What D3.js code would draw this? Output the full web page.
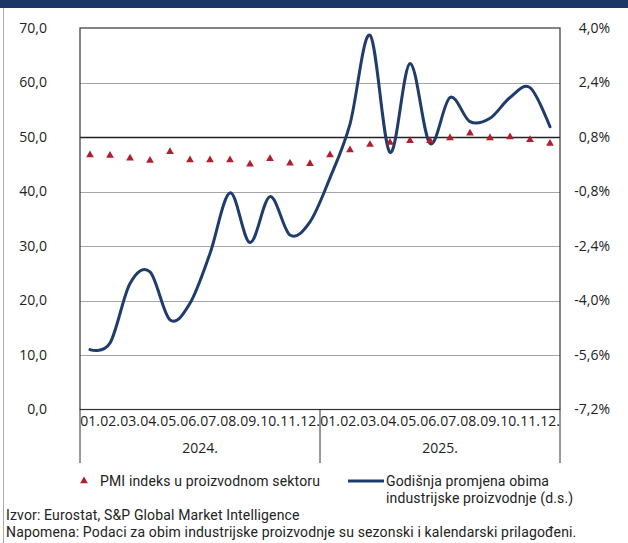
<!DOCTYPE html>
<html>
<head>
<meta charset="utf-8">
<script src="https://cdn.jsdelivr.net/npm/d3@7"></script>
<style>
  html, body { margin: 0; padding: 0; background: #fff; }
  svg { display: block; font-family: "Open Sans", "Noto Sans", sans-serif; }
</style>
</head>
<body>
<svg id="chart" width="628" height="543"></svg>
<script>
// ---- data ----
const months = ["01.","02.","03.","04.","05.","06.","07.","08.","09.","10.","11.","12.",
                "01.","02.","03.","04.","05.","06.","07.","08.","09.","10.","11.","12."];
const years = ["2024.", "2025."];
const pmi = [46.7, 46.6, 46.1, 45.7, 47.3, 45.8, 45.8, 45.8, 45.0, 46.0, 45.2, 45.1,
             46.7, 47.6, 48.6, 49.0, 49.3, 49.3, 49.8, 50.7, 49.8, 50.0, 49.5, 48.8];
const ipChange = [-5.44, -5.25, -3.50, -3.16, -4.57, -4.08, -2.62, -0.84, -2.30, -0.95, -2.08, -1.69,
                  -0.40, 1.18, 3.79, 0.35, 2.96, 0.61, 1.96, 1.25, 1.35, 1.96, 2.25, 1.10];
const leftTicks = [0, 10, 20, 30, 40, 50, 60, 70];
const rightTicks = [-7.2, -5.6, -4.0, -2.4, -0.8, 0.8, 2.4, 4.0];
const legendLabels = ["PMI indeks u proizvodnom sektoru", ["Godišnja promjena obima", "industrijske proizvodnje (d.s.)"]];
const notes = ["Izvor: Eurostat, S&P Global Market Intelligence",
               "Napomena: Podaci za obim industrijske proizvodnje su sezonski i kalendarski prilagođeni."];

// ---- layout ----
const svg = d3.select("#chart");
const L = 80, R = 560, T = 28, B = 409.5;
const navy = "#1c3766", lineCol = "#1f3c6c", red = "#b01f2e";
const fmt = d => d.toFixed(1).replace(".", ",");

// top band and left frame
svg.append("rect").attr("x", 0).attr("y", 0).attr("width", 628).attr("height", 8).attr("fill", navy);
svg.append("line").attr("x1", 3.5).attr("x2", 3.5).attr("y1", 8).attr("y2", 543)
   .attr("stroke", "#a9a9a9").attr("stroke-width", 1);

const x = d3.scaleBand().domain(d3.range(months.length)).range([L, R]);
const yL = d3.scaleLinear().domain([0, 70]).range([B, T]);
const yR = d3.scaleLinear().domain([-7.2, 4.0]).range([B, T]);

// gridlines
svg.append("g").selectAll("line").data(leftTicks.filter(v => v > 0 && v < 70)).join("line")
  .attr("x1", L).attr("x2", R)
  .attr("y1", d => Math.round(yL(d)) + 0.5).attr("y2", d => Math.round(yL(d)) + 0.5)
  .attr("stroke", d => d === 50 ? "#222" : "#a6a6a6").attr("stroke-width", d => d === 50 ? 1.3 : 1);

// plot frame
svg.append("rect").attr("x", L).attr("y", T).attr("width", R - L).attr("height", B - T)
  .attr("fill", "none").attr("stroke", "#333").attr("stroke-width", 1.2);

// left axis
const gL = svg.append("g").attr("transform", `translate(${L},0)`)
  .call(d3.axisLeft(yL).tickValues(leftTicks).tickFormat(fmt).tickSize(0).tickPadding(33));
gL.select(".domain").remove();
gL.selectAll("text").attr("font-size", 14).attr("fill", "#222").attr("font-family", "Open Sans");

// right axis
const gR = svg.append("g").attr("transform", `translate(${R},0)`)
  .call(d3.axisRight(yR).tickValues(rightTicks).tickFormat(d => fmt(d) + "%").tickSize(0));
gR.select(".domain").remove();
gR.selectAll("text").attr("font-size", 14).attr("fill", "#222").attr("font-family", "Open Sans")
  .attr("text-anchor", "end").attr("x", 50);

// bottom axis (months)
const gB = svg.append("g").attr("transform", `translate(0,${B})`)
  .call(d3.axisBottom(x).tickFormat(i => months[i]).tickSize(0).tickPadding(7));
gB.select(".domain").remove();
gB.selectAll("text").attr("font-size", 14).attr("fill", "#222").attr("font-family", "Open Sans");

// year dividers and labels
const yearBounds = [0, 12, 24];
svg.append("g").selectAll("line").data(yearBounds).join("line")
  .attr("x1", i => i < 24 ? x(i) : R).attr("x2", i => i < 24 ? x(i) : R)
  .attr("y1", B).attr("y2", 463).attr("stroke", "#333").attr("stroke-width", 1);
svg.append("g").selectAll("text").data(years).join("text")
  .attr("x", (d, k) => (x(k * 12) + (k * 12 + 12 < 24 ? x(k * 12 + 12) : R)) / 2)
  .attr("y", 453).attr("text-anchor", "middle").attr("font-size", 14).attr("fill", "#222")
  .text(d => d);

// line series (right axis)
const line = d3.line().x((d, i) => x(i) + x.bandwidth() / 2).y(d => yR(d)).curve(d3.curveCatmullRom.alpha(0));
svg.append("path").datum(ipChange).attr("d", line).attr("fill", "none")
  .attr("stroke", lineCol).attr("stroke-width", 3).attr("stroke-linecap", "round");

// PMI markers (left axis)
const tri = d3.symbol().type(d3.symbolTriangle).size(26);
svg.append("g").selectAll("path").data(pmi).join("path")
  .attr("d", tri).attr("fill", red)
  .attr("transform", (d, i) => `translate(${x(i) + x.bandwidth() / 2},${yL(d)})`);

// legend
const lg = svg.append("g").attr("font-size", 14).attr("fill", "#222")
  .attr("font-family", "Roboto").attr("letter-spacing", 0.15);
lg.append("path").attr("d", tri).attr("fill", red).attr("transform", "translate(84,481)");
lg.append("text").attr("x", 100).attr("y", 486).text(legendLabels[0]);
lg.append("line").attr("x1", 348).attr("x2", 384).attr("y1", 481).attr("y2", 481)
  .attr("stroke", lineCol).attr("stroke-width", 3);
const lt = lg.append("text").attr("x", 386).attr("y", 486);
lt.selectAll("tspan").data(legendLabels[1]).join("tspan")
  .attr("x", 386).attr("dy", (d, i) => i === 0 ? 0 : 17).text(d => d);

// notes (one multi-line text)
const nt = svg.append("text").attr("x", 6).attr("y", 520).attr("font-size", 14)
  .attr("font-family", "Roboto").attr("letter-spacing", 0.15).attr("fill", "#222");
nt.selectAll("tspan").data(notes).join("tspan")
  .attr("x", 6).attr("dy", (d, i) => i === 0 ? 0 : 17).text(d => d);
</script>
</body>
</html>
